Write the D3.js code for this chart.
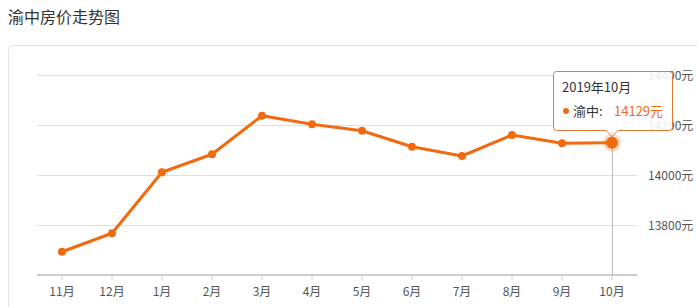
<!DOCTYPE html>
<html><head><meta charset="utf-8">
<script src="https://cdn.jsdelivr.net/npm/d3@7/dist/d3.min.js"></script>
<style>
body{margin:0;background:#fff;font-family:"Noto Sans CJK SC","Noto Sans",sans-serif;}
svg{display:block;}
</style></head>
<body><svg id="c" width="697" height="307"></svg>
<script>
const title = "渝中房价走势图";
const months = ["11月","12月","1月","2月","3月","4月","5月","6月","7月","8月","9月","10月"];
const prices = [13693,13767,14011,14083,14237,14203,14177,14113,14076,14160,14127,14129];
const yTicks = [13800,14000,14200,14400];
const tipTitle = "2019年10月";
const seriesName = "渝中";
const color = "#f26a10";

const svg = d3.select("#c");
svg.append("text").attr("x",8).attr("y",23).attr("font-size",16).attr("fill","#333").text(title);
svg.append("rect").attr("x",8.5).attr("y",45.5).attr("width",720).attr("height",300).attr("rx",4)
  .attr("fill","none").attr("stroke","#e3e3e3");

const x = d3.scaleBand().domain(months).range([37,637]);
const y = d3.scaleLinear().domain([13600,14400]).range([275,75]);
const cx = d => x(d)+x.bandwidth()/2;

// grid
svg.append("g").selectAll("line").data(yTicks).join("line")
  .attr("x1",37).attr("x2",637).attr("y1",d=>Math.round(y(d))+0.5).attr("y2",d=>Math.round(y(d))+0.5)
  .attr("stroke","#e0e0e0");
// y labels
svg.append("g").selectAll("text").data(yTicks).join("text")
  .attr("x",648).attr("y",d=>y(d)+5).attr("font-size",12).attr("fill","#555").text(d=>d+"元");

// x axis
const xa = svg.append("g").attr("transform","translate(0,275)")
  .call(d3.axisBottom(x).tickSize(5).tickPadding(7));
xa.select(".domain").attr("stroke","#ccc").attr("stroke-width",2).attr("d","M37,0H637");
xa.selectAll(".tick line").attr("stroke","#ccc");
xa.selectAll(".tick text").attr("font-size",12).attr("fill","#555")
  .attr("font-family","\"Noto Sans CJK SC\",sans-serif");

// axis pointer
const last = months.length-1;
svg.append("line").attr("x1",Math.round(cx(months[last]))+0.5).attr("x2",Math.round(cx(months[last]))+0.5)
  .attr("y1",130).attr("y2",275).attr("stroke","#bbb");

// line
const line = d3.line().x((d,i)=>cx(months[i])).y(d=>y(d));
svg.append("path").datum(prices).attr("d",line).attr("fill","none").attr("stroke",color)
  .attr("stroke-width",3).attr("stroke-linejoin","round");
svg.append("g").selectAll("circle").data(prices.slice(0,last)).join("circle")
  .attr("cx",(d,i)=>cx(months[i])).attr("cy",d=>y(d)).attr("r",4).attr("fill",color);
svg.append("circle").attr("cx",cx(months[last])).attr("cy",y(prices[last])).attr("r",9)
  .attr("fill",color).attr("opacity",0.25);
svg.append("circle").attr("cx",cx(months[last])).attr("cy",y(prices[last])).attr("r",6).attr("fill",color);

// tooltip
const tx=553.5, ty=71.5, tw=119, th=59, ax=cx(months[last]);
const tip = svg.append("g");
tip.append("path").attr("d",
  `M${tx+3},${ty}H${tx+tw-3}Q${tx+tw},${ty} ${tx+tw},${ty+3}V${ty+th-3}Q${tx+tw},${ty+th} ${tx+tw-3},${ty+th}`+
  `H${ax+6}L${ax},${ty+th+6}L${ax-6},${ty+th}H${tx+3}Q${tx},${ty+th} ${tx},${ty+th-3}V${ty+3}Q${tx},${ty} ${tx+3},${ty}Z`)
  .attr("fill","rgba(255,255,255,0.88)").attr("stroke","#e27a35");
tip.append("text").attr("x",562).attr("y",92).attr("font-size",13).attr("fill","#333").text(tipTitle);
tip.append("circle").attr("cx",566).attr("cy",111).attr("r",3).attr("fill",color);
tip.append("text").attr("x",573).attr("y",116).attr("font-size",13).attr("fill","#333").text(seriesName+":");
tip.append("text").attr("x",614).attr("y",116).attr("font-size",13).attr("fill",color)
  .text(prices[last]+"元");
</script></body></html>
